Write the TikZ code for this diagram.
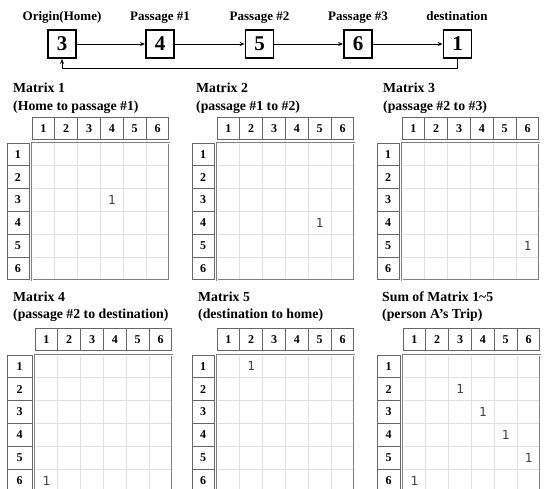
\documentclass[tikz,border=0pt]{standalone}
\usepackage{fontspec}
\setmainfont{Liberation Serif}
\newfontfamily\monof{DejaVu Sans Mono}
\usetikzlibrary{arrows.meta}
\tikzset{
 ttl/.style={font=\bfseries\fontsize{13.8}{14}\selectfont, anchor=base west, inner sep=0},
 toplbl/.style={font=\bfseries\fontsize{13}{14}\selectfont, anchor=base, inner sep=0},
 stbox/.style={draw, line width=1.8pt, minimum size=28pt, inner sep=0, font=\bfseries\fontsize{21}{21}\selectfont},
 flow/.style={line width=1pt, -{Stealth[length=5pt,width=4pt]}},
 hdr/.style={font=\bfseries\fontsize{12}{12}\selectfont, inner sep=0},
 ent/.style={font=\monof\fontsize{12.5}{12.5}\selectfont, text=black!75, inner sep=0},
 hline/.style={draw=black!60, line width=1pt},
 gridline/.style={draw=black!12, line width=0.8pt},
 outline/.style={draw=black!50, line width=0.6pt, double=white, double distance=0.5pt},
}
\def\cs{22.83}
% #1 id, #2 row-header left, #3 row-header right, #4 grid left, #5 header top, #6 grid top, #7 entries r/c
\newcommand\mymat[7]{%
 \draw[hline] (#4,#5) rectangle ({#4+6*\cs},{#5+22.5});
 \foreach \i in {1,...,5} \draw[hline] ({#4+\i*\cs},#5) -- ({#4+\i*\cs},{#5+22.5});
 \foreach \i in {1,...,6} \node[hdr] (m#1c\i) at ({#4+(\i-0.5)*\cs},{#5+11.5}) {\i};
 \draw[hline] (#2,#6) rectangle (#3,{#6+6*\cs});
 \foreach \i in {1,...,5} \draw[hline] (#2,{#6+\i*\cs}) -- (#3,{#6+\i*\cs});
 \foreach \i in {1,...,6} \node[hdr] (m#1r\i) at ({(#2+#3)/2},{#6+(\i-0.5)*\cs}) {\i};
 \foreach \i in {1,...,5} {
   \draw[gridline] ({#4+\i*\cs},#6) -- ({#4+\i*\cs},{#6+6*\cs});
   \draw[gridline] (#4,{#6+\i*\cs}) -- ({#4+6*\cs},{#6+\i*\cs});
 }
 \draw[outline] (#4,#6) rectangle ({#4+6*\cs},{#6+6*\cs});
 \foreach \r/\c in {#7} \node[ent] (m#1e\r\c) at ({#4+(\c-0.5)*\cs},{#6+(\r-0.5)*\cs}) {1};
}
\begin{document}
\begin{tikzpicture}[x=1pt,y=-1pt]
\clip (0,0) rectangle (544,488);
\fill[white] (0,0) rectangle (544,488);
% top flow
\node[stbox] (b3) at (62,44) {3};
\node[stbox] (b4) at (160,44) {4};
\node[stbox] (b5) at (259.5,44) {5};
\node[stbox] (b6) at (358,44) {6};
\node[stbox] (b1) at (457.5,44) {1};
\node[toplbl] (l3) at (62,20) {Origin(Home)};
\node[toplbl] (l4) at (160,20) {Passage \#1};
\node[toplbl] (l5) at (259.5,20) {Passage \#2};
\node[toplbl] (l6) at (358,20) {Passage \#3};
\node[toplbl] (l1) at (457,20) {destination};
\draw[flow] (b3) -- (b4);
\draw[flow] (b4) -- (b5);
\draw[flow] (b5) -- (b6);
\draw[flow] (b6) -- (b1);
\draw[flow] (b1.south) -- ++(0,10) -| (b3.south);
% titles
\node[ttl] (t1a) at (13,92) {Matrix 1};
\node[ttl] (t1b) at (13,110) {(Home to passage \#1)};
\node[ttl] (t2a) at (196,92) {Matrix 2};
\node[ttl] (t2b) at (196,110) {(passage \#1 to \#2)};
\node[ttl] (t3a) at (383,92) {Matrix 3};
\node[ttl] (t3b) at (383,110) {(passage \#2 to \#3)};
\node[ttl] (t4a) at (13,301) {Matrix 4};
\node[ttl] (t4b) at (13,318) {(passage \#2 to destination)};
\node[ttl] (t5a) at (198,301) {Matrix 5};
\node[ttl] (t5b) at (198,318) {(destination to home)};
\node[ttl] (t6a) at (382,301) {Sum of Matrix 1\textasciitilde5};
\node[ttl] (t6b) at (382,318) {(person A’s Trip)};
% matrices
\mymat{1}{7}{29}{32}{117}{143}{3/4}
\mymat{2}{192}{214}{217}{117}{143}{4/5}
\mymat{3}{377}{399}{402}{117}{143}{5/6}
\mymat{4}{7}{32}{35}{328}{355}{6/1}
\mymat{5}{192}{214}{217}{328}{355}{1/2}
\mymat{6}{377}{400}{403}{328}{355}{2/3,3/4,4/5,5/6,6/1}
\end{tikzpicture}
\end{document}
